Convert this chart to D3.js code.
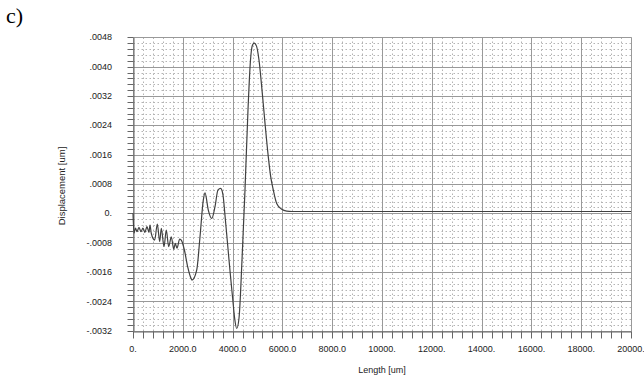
<!DOCTYPE html>
<html>
<head>
<meta charset="utf-8">
<script src="https://cdn.jsdelivr.net/npm/d3@7"></script>
<style>
  html, body { margin: 0; padding: 0; background: #fff; }
  svg { display: block; }
  text { font-family: "Liberation Sans", Arial, sans-serif; fill: #222; }
</style>
</head>
<body>
<svg id="chart" width="644" height="384"></svg>
<script>
// ---- data ----
const lengthUm = [0, 40, 100, 160, 240, 320, 400, 480, 560, 640, 683, 735, 871, 976, 1072, 1137, 1245, 1337, 1434, 1538, 1635, 1699, 1767, 1875, 1956, 2064, 2197, 2329, 2369, 2558, 2691, 2823, 2892, 3024, 3161, 3293, 3414, 3522, 3614, 3700, 3800, 3900, 4000, 4080, 4165, 4257, 4378, 4498, 4618, 4719, 4799, 4871, 4960, 5060, 5181, 5301, 5434, 5530, 5634, 5771, 5972, 6173, 6385, 20000];
const displacement = [0, -0.00054, -0.00040, -0.00050, -0.00038, -0.00050, -0.00040, -0.00052, -0.00036, -0.00052, -0.00032, -0.00055, -0.00073, -0.00029, -0.00077, -0.00041, -0.00091, -0.00046, -0.00091, -0.00064, -0.00098, -0.00082, -0.00095, -0.00070, -0.00075, -0.00100, -0.00146, -0.00177, -0.00182, -0.00155, -0.00064, 0.00036, 0.00056, 0.00009, -0.00014, 0.00018, 0.00064, 0.00068, 0.00050, -0.00010, -0.00085, -0.00160, -0.00230, -0.00285, -0.00314, -0.00286, -0.00127, 0.00064, 0.00282, 0.00418, 0.00459, 0.00464, 0.00456, 0.00418, 0.00336, 0.00246, 0.00154, 0.00100, 0.00064, 0.00027, 0.00011, 0.00006, 0.00005, 0.00005];

const xTickValues = [0, 2000, 4000, 6000, 8000, 10000, 12000, 14000, 16000, 18000, 20000];
const xTickLabels = ["0.", "2000.0", "4000.0", "6000.0", "8000.0", "10000.", "12000.", "14000.", "16000.", "18000.", "20000."];
const yTickValues = [0.0048, 0.0040, 0.0032, 0.0024, 0.0016, 0.0008, 0, -0.0008, -0.0016, -0.0024, -0.0032];
const yTickLabels = [".0048", ".0040", ".0032", ".0024", ".0016", ".0008", "0.", "-.0008", "-.0016", "-.0024", "-.0032"];
const xMinorValues = d3.range(0, 20001, 400);
const yMinorValues = d3.range(-20, 31).map(k => k * 0.00016);

const chartTitle = "c)";
const xTitle = "Length [um]";
const yTitle = "Displacement [um]";

// ---- layout ----
const svg = d3.select("#chart");
const plotLeft = 133, plotRight = 631, plotTop = 37.3, plotBottom = 330.7;
const x = d3.scaleLinear().domain([0, 20000]).range([plotLeft, plotRight]);
const y = d3.scaleLinear().domain([-0.0032, 0.0048]).range([plotBottom, plotTop]);
const px = v => Math.round(v) + 0.5;

const g = svg.append("g");
// minor grid (dotted)
g.selectAll("line.xminor").data(xMinorValues).enter().append("line")
  .attr("x1", d => px(x(d))).attr("x2", d => px(x(d)))
  .attr("y1", px(y(0.0048))).attr("y2", px(y(-0.0032)))
  .attr("stroke", "#b4b4b4").attr("stroke-width", 1).attr("stroke-dasharray", "1.5,2.5");
g.selectAll("line.yminor").data(yMinorValues).enter().append("line")
  .attr("y1", d => px(y(d))).attr("y2", d => px(y(d)))
  .attr("x1", px(x(0))).attr("x2", px(x(20000)))
  .attr("stroke", "#b4b4b4").attr("stroke-width", 1).attr("stroke-dasharray", "1.5,2.5");

// major grid (solid)
g.selectAll("line.xmajor").data(xTickValues).enter().append("line")
  .attr("x1", d => px(x(d))).attr("x2", d => px(x(d)))
  .attr("y1", px(y(0.0048))).attr("y2", px(y(-0.0032)))
  .attr("stroke", "#999").attr("stroke-width", 1);
g.selectAll("line.ymajor").data(yTickValues).enter().append("line")
  .attr("y1", d => px(y(d))).attr("y2", d => px(y(d)))
  .attr("x1", px(x(0))).attr("x2", px(x(20000)))
  .attr("stroke", "#999").attr("stroke-width", 1);

// axes
const xAxis = d3.axisBottom(x).tickValues(xMinorValues).tickSize(7).tickFormat("").tickSizeOuter(0);
const yAxis = d3.axisLeft(y).tickValues(yMinorValues).tickSize(6).tickFormat("").tickSizeOuter(0);
const xg = svg.append("g").attr("transform", `translate(0,${px(y(-0.0032))})`).call(xAxis);
const yg = svg.append("g").attr("transform", `translate(${px(x(0))},0)`).call(yAxis);
[xg, yg].forEach(a => {
  a.select(".domain").attr("stroke", "#666");
  a.selectAll(".tick line").attr("stroke", "#666");
});
xg.selectAll(".tick").attr("transform", d => `translate(${px(x(d))},0)`);
yg.selectAll(".tick").attr("transform", d => `translate(0,${px(y(d))})`);

// tick labels
svg.selectAll("text.xl").data(xTickValues).enter().append("text")
  .attr("x", d => x(d)).attr("y", 352)
  .attr("text-anchor", "middle").attr("font-size", 9)
  .text((d, i) => xTickLabels[i]);
svg.selectAll("text.yl").data(yTickValues).enter().append("text")
  .attr("x", 112).attr("y", d => y(d)).attr("dy", "0.35em")
  .attr("text-anchor", "end").attr("font-size", 9)
  .text((d, i) => yTickLabels[i]);

// titles
svg.append("text").attr("x", 382).attr("y", 373).attr("text-anchor", "middle")
  .attr("font-size", 9).text(xTitle);
svg.append("text").attr("transform", "translate(65,186) rotate(-90)")
  .attr("text-anchor", "middle").attr("font-size", 9.5).text(yTitle);
svg.append("text").attr("x", 6).attr("y", 23)
  .style("font-family", "'Liberation Serif', 'Times New Roman', serif")
  .attr("font-size", 22).style("fill", "#000").text(chartTitle);

// data line
const pts = lengthUm.map((L, i) => [L, displacement[i]]);
svg.append("path").datum(pts)
  .attr("fill", "none").attr("stroke", "#404040").attr("stroke-width", 1.2)
  .attr("d", d3.line().x(d => x(d[0])).y(d => y(d[1])).curve(d3.curveMonotoneX));
</script>
</body>
</html>
